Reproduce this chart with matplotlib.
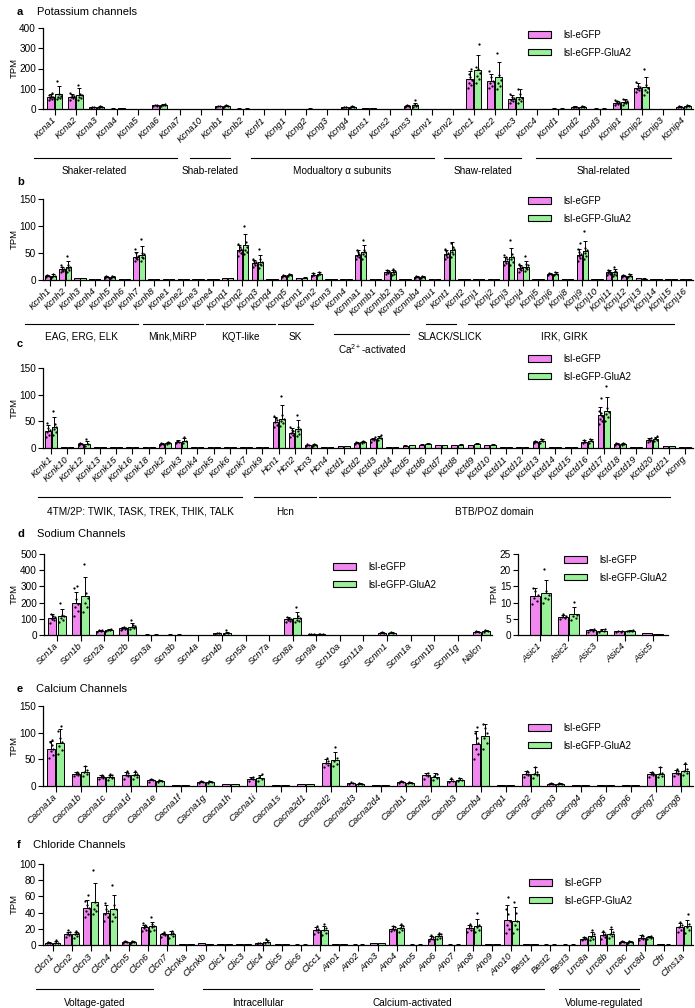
import matplotlib
matplotlib.use('Agg')
import matplotlib.pyplot as plt
from matplotlib.patches import Patch
from matplotlib.transforms import blended_transform_factory
import numpy as np

plt.rcParams['font.family'] = ['Liberation Sans', 'DejaVu Sans']
plt.rcParams['mathtext.fontset'] = 'custom'
plt.rcParams['mathtext.rm'] = 'Liberation Sans'
plt.rcParams['mathtext.it'] = 'Liberation Sans:italic'

W, H = 695, 1008
PINK = '#f088f0'
GREEN = '#98f098'
LABELS = ['lsl-eGFP', 'lsl-eGFP-GluA2']

# ---------------- a: potassium channels ----------------
a_genes = ['Kcna1', 'Kcna2', 'Kcna3', 'Kcna4', 'Kcna5', 'Kcna6', 'Kcna7', 'Kcna10', 'Kcnb1', 'Kcnb2',
           'Kcnf1', 'Kcng1', 'Kcng2', 'Kcng3', 'Kcng4', 'Kcns1', 'Kcns2', 'Kcns3', 'Kcnv1', 'Kcnv2',
           'Kcnc1', 'Kcnc2', 'Kcnc3', 'Kcnc4', 'Kcnd1', 'Kcnd2', 'Kcnd3', 'Kcnip1', 'Kcnip2', 'Kcnip3', 'Kcnip4']
a_gfp = [58, 61, 8, 2, 1, 18, 1, 1, 14, 2, 1, 1, 1, 1, 8, 4, 1, 15, 1, 1, 148, 140, 50, 1, 2, 10, 2, 31, 106, 1, 12]
a_gfp_sd = [15, 15, 2, 1, 0.5, 4, 0.5, 0.5, 3, 1, 0.5, 0.5, 0.5, 0.5, 2, 1, 0.5, 4, 0.5, 0.5,
            40, 35, 18, 0.5, 1, 3, 1, 10, 20, 0.5, 3]
a_glu = [75, 69, 10, 3, 1, 20, 1, 1, 16, 2, 1, 1, 2, 1, 10, 5, 1, 20, 1, 1, 191, 160, 58, 1, 2, 12, 2, 36, 109, 1, 14]
a_glu_sd = [38, 33, 3, 1, 0.5, 5, 0.5, 0.5, 4, 1, 0.5, 0.5, 1, 0.5, 3, 1, 0.5, 8, 0.5, 0.5,
            76, 74, 40, 0.5, 1, 4, 1, 12, 48, 0.5, 4]
a_dots = {
    'Kcna1': ([42, 48, 55, 58, 63, 70, 78], [48, 55, 60, 65, 75, 139]),
    'Kcna2': ([45, 52, 58, 62, 70, 78], [45, 52, 60, 68, 75, 119]),
    'Kcna3': ([6, 8, 10], [7, 10, 13]),
    'Kcna6': ([14, 17, 20, 22], [15, 19, 22, 26]),
    'Kcnb1': ([11, 14, 17], [12, 16, 21]),
    'Kcng4': ([6, 8, 10], [7, 10, 14]),
    'Kcns3': ([10, 13, 15, 17, 20], [12, 15, 18, 22, 45]),
    'Kcnc1': ([105, 120, 130, 145, 160, 175, 200], [130, 150, 165, 180, 200, 205, 322]),
    'Kcnc2': ([105, 115, 130, 140, 160, 190], [100, 115, 130, 145, 170, 279]),
    'Kcnc3': ([30, 38, 45, 52, 58, 72], [30, 38, 48, 55, 75, 100]),
    'Kcnd2': ([8, 10, 12], [9, 12, 16]),
    'Kcnip1': ([20, 25, 30, 35, 40, 45], [22, 28, 32, 38, 45, 50]),
    'Kcnip2': ([85, 95, 100, 108, 115, 135], [70, 85, 95, 105, 120, 196]),
    'Kcnip4': ([9, 12, 15], [11, 14, 18]),
}
a_groups = [('Shaker-related', -0.98, 5.84, 1.88), ('Shab-related', 6.46, 8.37, None),
            ('Modualtory α subunits', 9.37, 18.1, None), ('Shaw-related', 18.57, 22.25, None),
            ('Shal-related', 22.96, 29.4, None)]

# ---------------- b ----------------
b_genes = ['Kcnh1', 'Kcnh2', 'Kcnh3', 'Kcnh4', 'Kcnh5', 'Kcnh6', 'Kcnh7', 'Kcnh8', 'Kcne1', 'Kcne2',
           'Kcne3', 'Kcne4', 'Kcnq1', 'Kcnq2', 'Kcnq3', 'Kcnq4', 'Kcnq5', 'Kcnn1', 'Kcnn2', 'Kcnn3',
           'Kcnn4', 'Kcnma1', 'Kcnmb1', 'Kcnmb2', 'Kcnmb3', 'Kcnmb4', 'Kcnu1', 'Kcnt1', 'Kcnt2', 'Kcnj1',
           'Kcnj2', 'Kcnj3', 'Kcnj4', 'Kcnj5', 'Kcnj6', 'Kcnj8', 'Kcnj9', 'Kcnj10', 'Kcnj11', 'Kcnj12',
           'Kcnj13', 'Kcnj14', 'Kcnj15', 'Kcnj16']
b_gfp = [8, 20, 3, 1, 5, 1, 43, 1, 1, 1, 1, 1, 3, 56, 32, 1, 8, 3, 10, 1, 2, 47, 1, 15, 1, 5, 2, 48, 2, 1,
         1, 36, 22, 1, 11, 1, 47, 1, 14, 7, 3, 1, 1, 1]
b_gfp_sd = [2, 5, 1, 0.5, 1.5, 0.5, 9, 0.5, 0.3, 0.3, 0.3, 0.3, 1, 8, 5, 0.3, 2, 1, 2.5, 0.3, 0.5, 8, 0.3,
            3, 0.3, 1.5, 0.5, 8, 0.5, 0.3, 0.3, 7, 5, 0.3, 2, 0.3, 11, 0.3, 4, 2, 1, 0.3, 0.3, 0.3]
b_glu = [7.5, 25, 3, 1, 6, 1, 47, 1, 1, 1, 1, 1, 3, 64, 33, 1, 9, 4, 11, 1, 1, 51, 1, 14, 1, 6, 2, 55, 1, 1,
         1, 42, 25, 1, 11, 1, 53, 1, 14, 8, 2, 1, 1, 1]
b_glu_sd = [3, 10, 1, 0.5, 2, 0.5, 16, 0.5, 0.3, 0.3, 0.3, 0.3, 1, 22, 13, 0.3, 3, 1.5, 3, 0.3, 0.5, 14, 0.3,
            4, 0.3, 2, 0.5, 15, 0.5, 0.3, 0.3, 18, 10, 0.3, 3, 0.3, 20, 0.3, 6, 3, 1, 0.3, 0.3, 0.3]
b_dots = {
    'Kcnh1': ([6, 8, 10], [5, 8, 11]),
    'Kcnh2': ([14, 17, 19, 21, 24, 27], [15, 18, 22, 25, 28, 45]),
    'Kcnh5': ([4, 5, 7], [4, 6, 8]),
    'Kcnh7': ([35, 38, 40, 44, 50, 58], [35, 40, 43, 48, 50, 76]),
    'Kcnq2': ([45, 50, 54, 57, 62, 66], [48, 52, 56, 62, 70, 100]),
    'Kcnq3': ([25, 28, 31, 33, 36, 39], [22, 27, 30, 33, 38, 57]),
    'Kcnq5': ([6, 8, 10], [7, 9, 12]),
    'Kcnn2': ([8, 10, 13], [9, 11, 14]),
    'Kcnma1': ([38, 42, 45, 48, 52, 55], [38, 44, 48, 52, 56, 74]),
    'Kcnmb2': ([11, 13, 15, 17, 19], [9, 11, 14, 16, 21]),
    'Kcnmb4': ([4, 5, 7], [4, 6, 8]),
    'Kcnt1': ([38, 42, 46, 50, 53, 58], [42, 48, 52, 57, 62, 68]),
    'Kcnj3': ([28, 32, 35, 38, 42, 46], [28, 33, 38, 42, 48, 75]),
    'Kcnj4': ([15, 18, 21, 24, 26, 30], [16, 20, 23, 27, 30, 44]),
    'Kcnj6': ([9, 11, 13], [9, 11, 14]),
    'Kcnj9': ([35, 40, 44, 48, 52, 58, 69], [38, 44, 50, 55, 60, 90]),
    'Kcnj11': ([9, 11, 13, 15, 17, 19], [8, 10, 12, 14, 16, 25]),
    'Kcnj12': ([5, 7, 9], [6, 8, 11]),
}
b_groups = [('EAG, ERG, ELK', -1.72, 5.93, None), ('Mink,MiRP', 6.27, 10.33, None),
            ('KQT-like', 10.54, 15.2, None), ('SK', 15.41, 17.78, None),
            ('SLACK/SLICK', 25.43, 27.46, 27.05), ('IRK, GIRK', 28.27, 42.2, 34.8)]
b_groups_low = [('Ca$^{2+}$-activated', 19.2, 24.3, None)]

# ---------------- c ----------------
c_genes = ['Kcnk1', 'Kcnk10', 'Kcnk12', 'Kcnk13', 'Kcnk15', 'Kcnk16', 'Kcnk18', 'Kcnk2', 'Kcnk3', 'Kcnk4',
           'Kcnk5', 'Kcnk6', 'Kcnk7', 'Kcnk9', 'Hcn1', 'Hcn2', 'Hcn3', 'Hcn4', 'Kctd1', 'Kctd2',
           'Kctd3', 'Kctd4', 'Kctd5', 'Kctd6', 'Kctd7', 'Kctd8', 'Kctd9', 'Kctd10', 'Kctd11', 'Kctd12',
           'Kctd13', 'Kctd14', 'Kctd15', 'Kctd16', 'Kctd17', 'Kctd18', 'Kctd19', 'Kctd20', 'Kctd21', 'Kcnrg']
c_gfp = [32, 2, 7, 1, 1, 1, 1, 8, 12, 1, 1, 1, 1, 1, 49, 29, 5, 1, 3, 9, 16, 1, 4, 6, 5, 5, 5, 5, 1, 2,
         11, 1, 2, 12, 61, 7, 1, 15, 3, 2]
c_gfp_sd = [12, 0.5, 2, 0.3, 0.3, 0.3, 0.3, 2, 3, 0.3, 0.3, 0.3, 0.3, 0.3, 10, 8, 1, 0.3, 1, 2, 3, 0.3,
            1, 1.5, 1, 1, 1.5, 1, 0.3, 0.5, 3, 0.3, 0.5, 3, 15, 2, 0.3, 3, 0.5, 0.5]
c_glu = [39, 2, 8, 1, 1, 1, 1, 9, 14, 1, 1, 1, 1, 1, 55, 35, 6, 1, 3, 11, 19, 1, 5, 7, 5, 6, 7, 6, 1, 2,
         13, 1, 2, 13, 69, 8, 1, 17, 3, 1]
c_glu_sd = [20, 0.5, 6, 0.3, 0.3, 0.3, 0.3, 2, 5, 0.3, 0.3, 0.3, 0.3, 0.3, 25, 17, 1.5, 0.3, 1, 3, 4, 0.3,
            1, 2, 1, 1.5, 2, 1.5, 0.3, 0.5, 3, 0.3, 0.5, 3, 27, 2, 0.3, 4, 0.5, 0.5]
c_dots = {
    'Kcnk1': ([20, 25, 30, 34, 38, 46], [25, 30, 35, 40, 45, 70]),
    'Kcnk12': ([5, 7, 9], [4, 8, 17]),
    'Kcnk2': ([6, 8, 10], [7, 9, 11]),
    'Kcnk3': ([10, 12, 14], [10, 13, 21]),
    'Hcn1': ([40, 44, 48, 52, 56, 60], [42, 46, 50, 55, 62, 97]),
    'Hcn2': ([20, 24, 28, 31, 34, 40], [22, 27, 32, 36, 40, 62]),
    'Hcn3': ([4, 5, 7], [4, 6, 8]),
    'Kctd2': ([7, 9, 11], [9, 11, 14]),
    'Kctd3': ([12, 15, 17, 20], [15, 18, 20, 24]),
    'Kctd13': ([9, 11, 14], [10, 13, 16]),
    'Kctd16': ([9, 12, 15], [10, 13, 16]),
    'Kctd17': ([45, 50, 55, 60, 65, 70, 94], [50, 58, 63, 68, 75, 117]),
    'Kctd18': ([5, 7, 9], [6, 8, 10]),
    'Kctd20': ([12, 14, 16, 18], [13, 15, 18, 22]),
}
c_groups = [('4TM/2P: TWIK, TASK, TREK, THIK, TALK', -0.8, 11.75, None), ('Hcn', 12.49, 16.3, None),
            ('BTB/POZ domain', 16.49, 38.1, None)]

# ---------------- d: sodium channels ----------------
d_genes = ['Scn1a', 'Scn1b', 'Scn2a', 'Scn2b', 'Scn3a', 'Scn3b', 'Scn4a', 'Scn4b', 'Scn5a', 'Scn7a',
           'Scn8a', 'Scn9a', 'Scn10a', 'Scn11a', 'Scnm1', 'Scnn1a', 'Scnn1b', 'Scnn1g', 'Nalcn']
d_gfp = [103, 197, 27, 41, 3, 3, 2, 10, 1, 1, 97, 6, 1, 1, 13, 1, 1, 1, 20]
d_gfp_sd = [25, 70, 5, 8, 1, 1, 0.5, 3, 0.3, 0.3, 12, 2, 0.3, 0.3, 3, 0.3, 0.3, 0.3, 4]
d_glu = [118, 242, 31, 52, 3, 3, 2, 12, 1, 1, 104, 6, 1, 1, 14, 1, 1, 1, 26]
d_glu_sd = [45, 115, 5, 22, 1, 1, 0.5, 8, 0.3, 0.3, 35, 2, 0.3, 0.3, 3, 0.3, 0.3, 0.3, 7]
d_dots = {
    'Scn1a': ([75, 90, 100, 110, 120, 130], [80, 95, 105, 115, 125, 200]),
    'Scn1b': ([120, 150, 170, 190, 220, 290, 304], [140, 170, 200, 230, 260, 440]),
    'Scn2a': ([20, 25, 28, 32], [25, 30, 33, 36]),
    'Scn2b': ([30, 35, 40, 45, 52], [35, 42, 50, 55, 60, 92]),
    'Scn4b': ([7, 10, 13], [6, 12, 31]),
    'Scn8a': ([80, 88, 95, 100, 105, 112], [80, 88, 95, 105, 115, 172]),
    'Scn9a': ([4, 6, 8], [4, 6, 8]),
    'Scnm1': ([10, 13, 16], [11, 14, 17]),
    'Nalcn': ([16, 20, 24], [20, 26, 33]),
}

asic_genes = ['Asic1', 'Asic2', 'Asic3', 'Asic4', 'Asic5']
asic_gfp = [11.9, 5.7, 1.5, 1.1, 0.5]
asic_gfp_sd = [2.5, 0.6, 0.4, 0.2, 0.1]
asic_glu = [13.1, 6.4, 1.3, 1.3, 0.3]
asic_glu_sd = [4.0, 2.2, 0.6, 0.2, 0.1]
asic_dots = {
    'Asic1': ([9.5, 10.5, 11.5, 12.5, 13.5, 14.5], [10, 11, 11.5, 12.5, 13.5, 20.5]),
    'Asic2': ([4.8, 5.2, 5.6, 6.0, 6.4], [4.6, 5.2, 5.8, 6.2, 10.3]),
    'Asic3': ([1.0, 1.3, 1.6, 1.9], [0.8, 1.1, 1.4, 2.0]),
    'Asic4': ([0.9, 1.0, 1.1, 1.2], [1.1, 1.2, 1.3, 1.4]),
}

# ---------------- e: calcium channels ----------------
e_genes = ['Cacna1a', 'Cacna1b', 'Cacna1c', 'Cacna1d', 'Cacna1e', 'Cacna1f', 'Cacna1g', 'Cacna1h', 'Cacna1i',
           'Cacna1s', 'Cacna2d1', 'Cacna2d2', 'Cacna2d3', 'Cacna2d4', 'Cacnb1', 'Cacnb2', 'Cacnb3', 'Cacnb4',
           'Cacng1', 'Cacng2', 'Cacng3', 'Cacng4', 'Cacng5', 'Cacng6', 'Cacng7', 'Cacng8']
e_gfp = [69, 23, 17, 21, 11, 1, 7, 3, 14, 1, 3, 44, 5, 2, 7, 20, 10, 79, 1, 23, 4, 1, 1, 1, 22, 25]
e_gfp_sd = [15, 3, 3, 5, 3, 0.3, 3, 1, 3, 0.3, 1, 7, 1.5, 0.5, 2, 5, 4, 25, 0.3, 5, 1, 0.3, 0.3, 0.3, 4, 5]
e_glu = [81, 27, 17, 20, 10, 1, 7, 3, 15, 1, 3, 48, 4, 2, 6, 17, 12, 94, 1, 23, 4, 1, 1, 1, 22, 29]
e_glu_sd = [25, 10, 4, 7, 2, 0.3, 2, 1, 6, 0.3, 1, 15, 1, 0.5, 2, 7, 3, 22, 0.3, 12, 1, 0.3, 0.3, 0.3, 13, 13]
e_dots = {
    'Cacna1a': ([52, 58, 65, 70, 76, 82, 86], [60, 68, 75, 82, 90, 103, 112]),
    'Cacna1b': ([19, 21, 23, 25, 27], [18, 22, 26, 30, 38]),
    'Cacna1c': ([13, 15, 17, 19, 21], [12, 15, 17, 20, 23]),
    'Cacna1d': ([14, 18, 21, 24, 28], [14, 17, 20, 23, 29]),
    'Cacna1e': ([8, 11, 14], [8, 10, 12]),
    'Cacna1g': ([5, 7, 10], [5, 7, 9]),
    'Cacna1i': ([10, 13, 15, 17], [10, 13, 16, 22]),
    'Cacna2d2': ([35, 39, 43, 47, 52], [38, 42, 46, 52, 74]),
    'Cacna2d3': ([4, 5, 7], [3, 4, 5]),
    'Cacnb1': ([5, 7, 9], [5, 6, 8]),
    'Cacnb2': ([14, 18, 20, 24], [11, 15, 19, 23]),
    'Cacnb3': ([7, 10, 15], [9, 12, 15]),
    'Cacnb4': ([50, 60, 70, 80, 90, 100, 110], [70, 80, 90, 100, 108, 116]),
    'Cacng2': ([17, 20, 23, 26, 28], [15, 20, 23, 27, 35]),
    'Cacng3': ([3, 4, 5], [3, 4, 6]),
    'Cacng7': ([17, 20, 22, 25, 27], [16, 19, 22, 25, 35]),
    'Cacng8': ([18, 22, 25, 28, 32], [20, 24, 28, 32, 43]),
}

# ---------------- f: chloride channels ----------------
f_genes = ['Clcn1', 'Clcn2', 'Clcn3', 'Clcn4', 'Clcn5', 'Clcn6', 'Clcn7', 'Clcnka', 'Clcnkb', 'Clic1',
           'Clic3', 'Clic4', 'Clic5', 'Clic6', 'Clcc1', 'Ano1', 'Ano2', 'Ano3', 'Ano4', 'Ano5',
           'Ano6', 'Ano7', 'Ano8', 'Ano9', 'Ano10', 'Best1', 'Best2', 'Best3', 'Lrrc8a', 'Lrrc8b',
           'Lrrc8c', 'Lrrc8d', 'Cftr', 'Clns1a']
f_gfp = [3, 13.5, 46, 40, 4, 22, 13, 1, 2, 1, 1, 2, 1, 0.5, 18.5, 1, 0.5, 2, 20, 0.5,
         8, 0.5, 21, 1, 31, 1, 0.5, 0.5, 8, 12, 4, 9, 1, 22]
f_gfp_sd = [1, 3, 10, 9, 1, 3, 2, 0.3, 1, 0.3, 0.3, 0.5, 0.3, 0.2, 4, 0.3, 0.2, 0.5, 3, 0.2,
            3, 0.2, 4, 0.3, 18, 0.5, 0.2, 0.2, 2, 4, 1.5, 3, 0.3, 5]
f_glu = [3, 13, 53, 45, 4, 23, 13, 1, 1, 1, 1, 4, 1, 0.5, 18, 1, 0.5, 2, 21, 0.5,
         11, 0.5, 23, 1, 29.5, 1, 0.5, 0.5, 11, 14, 4, 10, 0.5, 23]
f_glu_sd = [2, 3, 23, 17, 1, 6, 4, 0.3, 0.3, 0.3, 0.3, 2, 0.3, 0.2, 6, 0.3, 0.2, 0.5, 4, 0.2,
            3, 0.2, 9, 0.3, 17, 0.3, 0.2, 0.2, 5, 6, 1.5, 1.5, 0.2, 8]
f_dots = {
    'Clcn1': ([2, 3, 4], [2, 3, 6]),
    'Clcn2': ([10, 12, 14, 16, 19], [9, 11, 13, 15, 17]),
    'Clcn3': ([34, 38, 42, 46, 50, 54, 62], [38, 42, 45, 50, 53, 92]),
    'Clcn4': ([30, 35, 38, 42, 45, 52], [30, 34, 38, 44, 50, 74]),
    'Clcn5': ([3, 4, 5], [3, 4, 5]),
    'Clcn6': ([17, 19, 21, 23, 25, 27], [17, 19, 22, 24, 26, 35]),
    'Clcn7': ([10, 12, 13, 14, 16], [9, 11, 13, 15, 17]),
    'Clic4': ([1, 2, 3], [2, 4, 7]),
    'Clcc1': ([13, 16, 18, 20, 23], [12, 15, 18, 21, 26]),
    'Ano4': ([17, 19, 20, 22, 24], [16, 19, 21, 23, 26]),
    'Ano6': ([5, 7, 8, 10, 12], [7, 9, 11, 13, 15]),
    'Ano8': ([16, 19, 21, 23, 26], [16, 19, 22, 25, 39]),
    'Ano10': ([15, 20, 25, 30, 38, 45, 59], [15, 20, 25, 30, 40, 53]),
    'Lrrc8a': ([6, 7, 8, 9, 10], [6, 8, 10, 13, 18]),
    'Lrrc8b': ([8, 10, 12, 14, 17], [9, 11, 13, 16, 22]),
    'Lrrc8c': ([3, 4, 5], [3, 4, 5]),
    'Lrrc8d': ([6, 8, 9, 11, 12], [8, 9, 10, 11]),
    'Clns1a': ([16, 19, 22, 25, 28], [15, 19, 22, 26, 38]),
}
f_groups = [('Voltage-gated', -0.87, 5.26, None), ('Intracellular', 7.87, 13.58, None),
            ('Calcium-activated', 14.0, 25.68, 18.8), ('Volume-regulated', 26.5, 30.7, 28.84)]

fig = plt.figure(figsize=(W / 100, H / 100), dpi=100)
JIT = [-0.28, 0.22, -0.08, 0.3, 0.05, -0.2, 0.14]


def fy(y):
    return 1 - y / H


def panel(box, xlim, genes, gfp, gfp_sd, glu, glu_sd, dots, ymax, ystep, width=0.34):
    x0, x1, ytop, ybot = box
    ax = fig.add_axes([x0 / W, fy(ybot), (x1 - x0) / W, (ybot - ytop) / H])
    x = np.arange(len(genes))
    off = width / 2 + 0.025
    for vals, sd, col, sign in ((gfp, gfp_sd, PINK, -1), (glu, glu_sd, GREEN, 1)):
        pos = x + sign * off
        ax.bar(pos, vals, width, color=col, edgecolor='black', linewidth=0.7, zorder=2)
        ax.errorbar(pos, vals, yerr=[np.zeros(len(vals)), sd], fmt='none', ecolor='black',
                    elinewidth=0.7, capsize=1.4, capthick=0.7, zorder=3)
    for g, pair in dots.items():
        i = genes.index(g)
        for pts, sign in zip(pair, (-1, 1)):
            xs = [i + sign * off + JIT[k % len(JIT)] * width for k in range(len(pts))]
            ax.scatter(xs, pts, s=2.6, color='black', lw=0, zorder=4)
    ax.set_xlim(*xlim)
    ax.set_ylim(0, ymax)
    ax.set_yticks(np.arange(0, ymax + 0.01, ystep))
    ax.set_xticks(x)
    ax.set_xticklabels(genes, rotation=45, ha='right', va='center', rotation_mode='anchor',
                       fontsize=6.8, style='italic')
    for s in ('top', 'right'):
        ax.spines[s].set_visible(False)
    for s in ('left', 'bottom'):
        ax.spines[s].set_linewidth(0.9)
    ax.tick_params(axis='x', length=4, width=0.8, pad=3)
    ax.tick_params(axis='y', length=3.5, width=0.8, labelsize=7.2, pad=1.5)
    return ax


def ylabel(x, box):
    fig.text(x / W, fy((box[2] + box[3]) / 2), 'TPM', rotation=90, ha='center', va='center', fontsize=6.8)


def legend(ax, bx, by):
    handles = [Patch(facecolor=PINK, edgecolor='black', lw=0.8),
               Patch(facecolor=GREEN, edgecolor='black', lw=0.8)]
    ax.legend(handles, LABELS, loc='upper left', bbox_to_anchor=(bx / W, fy(by)),
              bbox_transform=fig.transFigure, frameon=False, fontsize=7, handlelength=2.4,
              handleheight=0.6, labelspacing=0.8, handletextpad=1.2, borderpad=0, borderaxespad=0)


def groups(ax, items, yline, ytext):
    tr = blended_transform_factory(ax.transData, fig.transFigure)
    for label, s, e, c in items:
        ax.plot([s, e], [fy(yline)] * 2, color='black', lw=0.8, transform=tr, clip_on=False)
        ax.text((s + e) / 2 if c is None else c, fy(ytext), label, transform=tr,
                ha='center', va='center', fontsize=7.2)


def title(y, letter, text=None, tx=37):
    fig.text(17 / W, fy(y), letter, fontsize=8, fontweight='bold', va='center')
    if text:
        fig.text(tx / W, fy(y), text, fontsize=8, va='center')


# a
box = (43, 693, 28, 109)
ax = panel(box, (-0.55, 30.45), a_genes, a_gfp, a_gfp_sd, a_glu, a_glu_sd, a_dots, 400, 100, 0.33)
ylabel(14, box)
legend(ax, 528, 30)
groups(ax, a_groups, 158, 171)
title(12, 'a', 'Potassium channels')

# b
box = (43, 693, 199, 280)
ax = panel(box, (-0.5, 43.5), b_genes, b_gfp, b_gfp_sd, b_glu, b_glu_sd, b_dots, 150, 50, 0.36)
ylabel(14, box)
legend(ax, 528, 196)
groups(ax, b_groups, 324, 337)
groups(ax, b_groups_low, 334, 349)
title(182, 'b')

# c
box = (43, 693, 368, 448)
ax = panel(box, (-0.5, 39.5), c_genes, c_gfp, c_gfp_sd, c_glu, c_glu_sd, c_dots, 150, 50, 0.35)
ylabel(14, box)
legend(ax, 528, 354)
groups(ax, c_groups, 497, 512)
title(344, 'c')

# d
box = (44, 492, 554, 635)
ax = panel(box, (-0.55, 18.45), d_genes, d_gfp, d_gfp_sd, d_glu, d_glu_sd, d_dots, 500, 100, 0.34)
ylabel(14, box)
legend(ax, 333, 562)
title(534, 'd', 'Sodium Channels')

box = (518, 668, 554, 635)
ax = panel(box, (-0.8, 4.55), asic_genes, asic_gfp, asic_gfp_sd, asic_glu, asic_glu_sd, asic_dots, 25, 5, 0.34)
ylabel(494, box)
legend(ax, 564, 555)

# e
box = (43, 693, 706, 786)
ax = panel(box, (-0.5, 25.5), e_genes, e_gfp, e_gfp_sd, e_glu, e_glu_sd, e_dots, 150, 50, 0.3)
ylabel(14, box)
legend(ax, 528, 723)
title(689, 'e', 'Calcium Channels', 36)

# f
box = (43, 693, 864, 945)
ax = panel(box, (-0.5, 33.5), f_genes, f_gfp, f_gfp_sd, f_glu, f_glu_sd, f_dots, 100, 20, 0.36)
ylabel(14, box)
legend(ax, 529, 878)
groups(ax, f_groups, 989, 1003)
title(845, 'f', 'Chloride Channels', 33)

fig.savefig('out.png', dpi=100)
